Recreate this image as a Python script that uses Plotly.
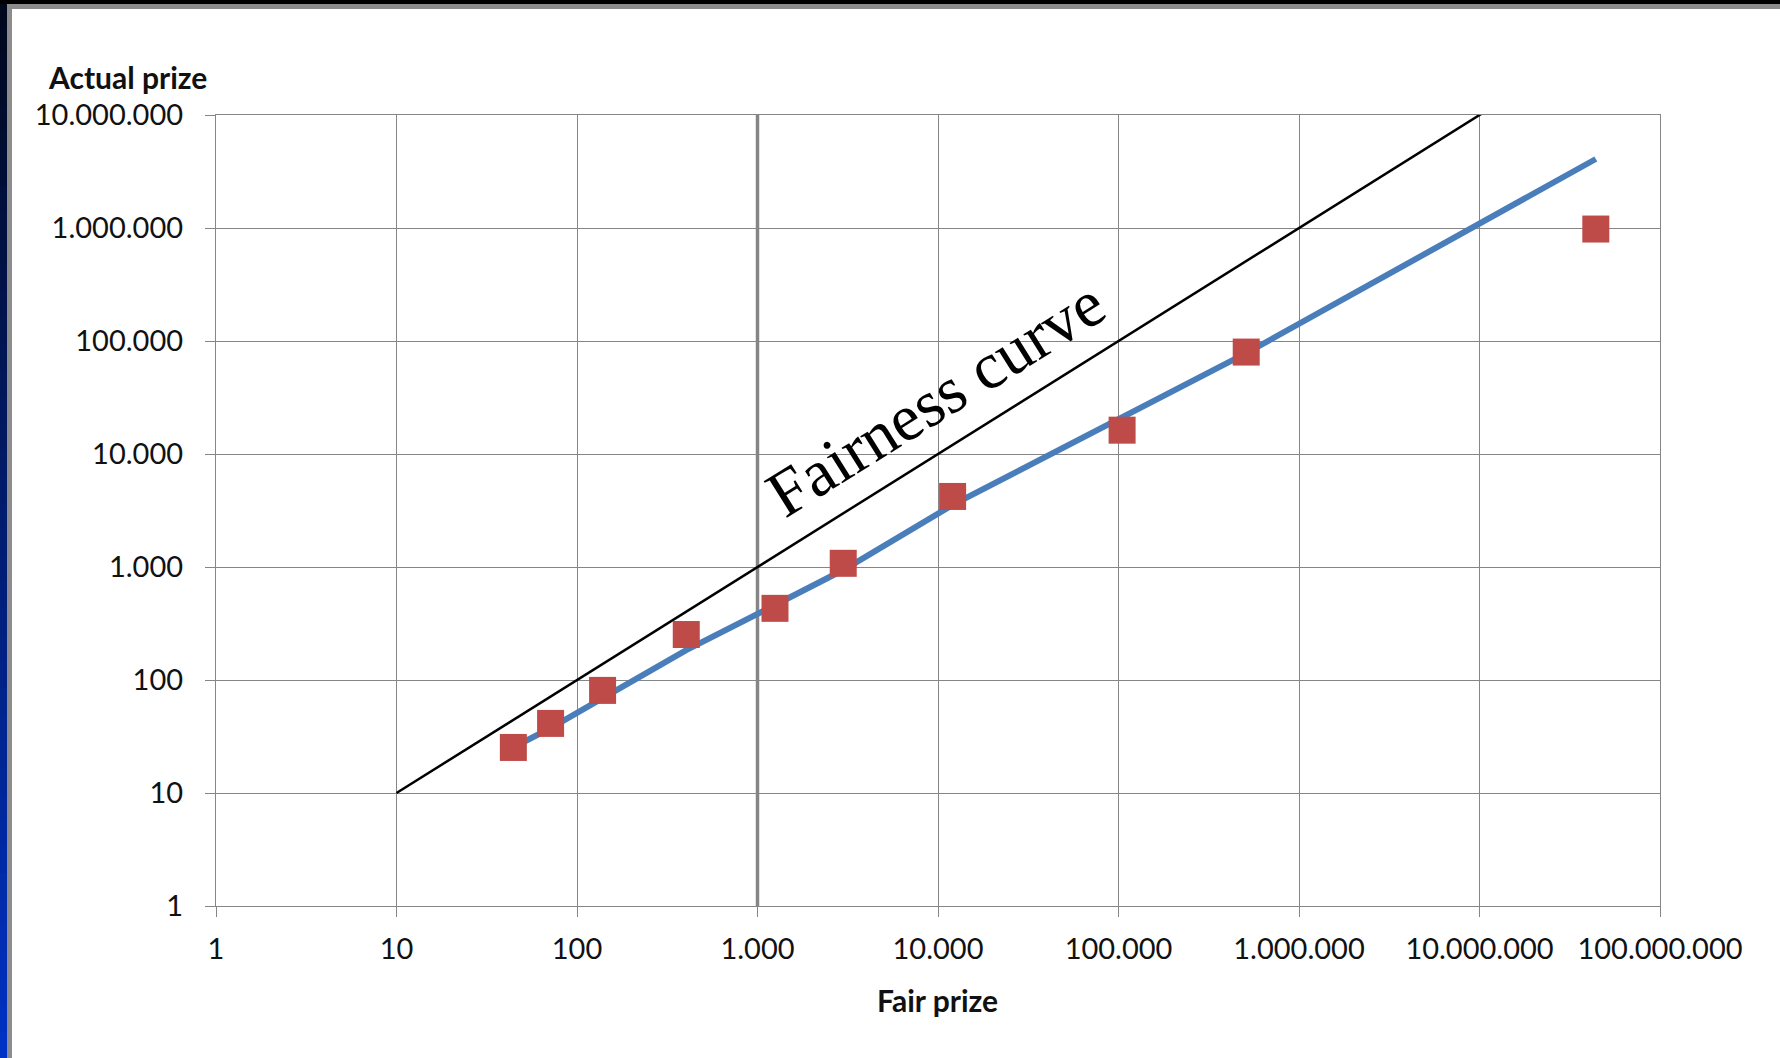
import plotly.graph_objects as go

# ---- data ----
fair_prize = [44.4, 71.4, 138.6, 403, 1250, 2985, 12050, 104700, 510000, 44.1e6]
actual_prize = [25.3, 41.3, 80.9, 252.6, 430.7, 1078, 4210, 16250, 79800, 979000]
trend_prize = [25.4, 37.5, 69, 184, 461, 940, 3540, 21400, 78100, 4.08e6]
fairness_x = [10, 1.1e7]
fairness_y = [10, 1.1e7]

tick_vals_x = [1, 10, 100, 1e3, 1e4, 1e5, 1e6, 1e7, 1e8]
tick_text_x = ["1", "10", "100", "1.000", "10.000", "100.000", "1.000.000",
               "10.000.000", "100.000.000"]
tick_vals_y = [1, 10, 100, 1e3, 1e4, 1e5, 1e6, 1e7]
tick_text_y = ["1", "10", "100", "1.000", "10.000", "100.000", "1.000.000",
               "10.000.000"]

W, H = 1780, 1058
ML, MR, MT, MB = 216, 120, 115, 152
PW, PH = W - ML - MR, H - MT - MB

def px(x):
    return (x - ML) / PW

def py(y):
    return (H - MB - y) / PH

GRID = "#868686"
FONT = "Lato"

fig = go.Figure()

fig.add_trace(go.Scatter(
    x=fairness_x, y=fairness_y, mode="lines",
    line=dict(color="black", width=2.5), cliponaxis=False,
    showlegend=False, hoverinfo="skip"))

fig.add_trace(go.Scatter(
    x=fair_prize, y=trend_prize, mode="lines",
    line=dict(color="#4A7EBB", width=6), showlegend=False))

fig.add_trace(go.Scatter(
    x=fair_prize, y=actual_prize, mode="markers",
    marker=dict(symbol="square", size=27, color="#BE4B48",
                line=dict(width=0)),
    cliponaxis=False, showlegend=False))

# thicker gridline at 1.000
fig.add_vline(x=1000, line=dict(color=GRID, width=3.5), layer="below")

axis_common = dict(
    type="log", showgrid=True, gridcolor=GRID, gridwidth=1.3,
    showline=True, linecolor=GRID, linewidth=1.3, mirror=True,
    ticks="outside", ticklen=10, tickwidth=1.3, tickcolor=GRID,
    tickfont=dict(family=FONT, size=29, color="#111111"),
    zeroline=False,
)

fig.update_xaxes(range=[0, 8], tickvals=tick_vals_x, ticktext=tick_text_x,
                 ticklabelstandoff=7, **axis_common)
fig.update_yaxes(range=[0, 7], tickvals=tick_vals_y, ticktext=tick_text_y,
                 ticklabelstandoff=16, **axis_common)

annotations = [
    dict(text="<b>Actual prize</b>", x=px(127), y=py(77), xref="paper",
         yref="paper", xanchor="center", yanchor="middle", showarrow=False,
         font=dict(family=FONT, size=30, color="#111111")),
    dict(text="<b>Fair prize</b>", x=px(937), y=py(1000), xref="paper",
         yref="paper", xanchor="center", yanchor="middle", showarrow=False,
         font=dict(family=FONT, size=30, color="#111111")),
    dict(text="Fairness curve", x=3.985, y=4.49, xref="x", yref="y",
         xanchor="center", yanchor="middle", showarrow=False, textangle=-32,
         font=dict(family="Liberation Serif", size=66, color="black")),
]

# ---- slide frame decoration ----
shapes = []
n = 40
for i in range(n):
    t = i / (n - 1)
    r, g, b = 0, int(8 + t * (50 - 8)), int(30 + t * (195 - 30))
    shapes.append(dict(type="rect", xref="paper", yref="paper",
                       x0=px(0), x1=px(7), y0=py(H * (i + 1) / n + 1),
                       y1=py(H * i / n), fillcolor=f"rgb({r},{g},{b})",
                       line=dict(width=0), layer="above"))
shapes.append(dict(type="rect", xref="paper", yref="paper",
                   x0=px(0), x1=px(W), y0=py(4), y1=py(0),
                   fillcolor="black", line=dict(width=0)))
shapes.append(dict(type="rect", xref="paper", yref="paper",
                   x0=px(7), x1=px(W), y0=py(9), y1=py(4),
                   fillcolor="#8C8C8C", line=dict(width=0)))
shapes.append(dict(type="rect", xref="paper", yref="paper",
                   x0=px(7), x1=px(12), y0=py(H), y1=py(4),
                   fillcolor="#8C8C8C", line=dict(width=0)))

fig.update_layout(
    width=W, height=H, autosize=False,
    margin=dict(l=ML, r=MR, t=MT, b=MB, pad=0),
    paper_bgcolor="white", plot_bgcolor="white",
    annotations=annotations, shapes=list(fig.layout.shapes) + shapes,
    showlegend=False,
)

fig.write_html(
    "out.html",
    config={"displayModeBar": False},
    post_script="document.body.style.margin='0';document.body.style.overflow='hidden';",
)
